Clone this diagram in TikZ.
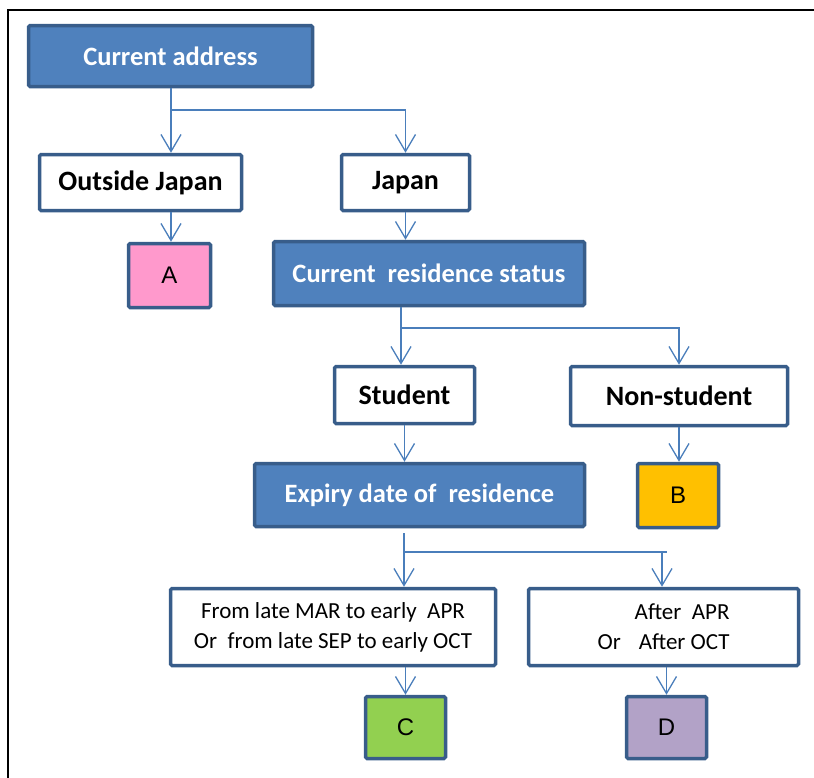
\documentclass[tikz,border=0pt]{standalone}
\usepackage{fontspec}
\setmainfont{Carlito}
\newfontfamily\arialf{Liberation Sans}
\usetikzlibrary{arrows.meta}
\definecolor{boxblue}{HTML}{4F81BD}
\definecolor{boxedge}{HTML}{385D8A}
\definecolor{linkc}{HTML}{4A7EBB}
\definecolor{pinkA}{HTML}{FF99CC}
\definecolor{orangeB}{HTML}{FFC000}
\definecolor{greenC}{HTML}{92D050}
\definecolor{purpleD}{HTML}{B2A2C7}
\begin{document}
\begin{tikzpicture}[x=1pt,y=-1pt,
 base/.style={draw=boxedge, line width=3.5pt, rounded corners=1.5pt, inner sep=0pt},
 bluebox/.style={base, fill=boxblue, text=white, font=\bfseries\fontsize{26.5}{30}\selectfont},
 whitebox/.style={base, fill=white, text=black, font=\bfseries\fontsize{28}{32}\selectfont},
 datebox/.style={base, fill=white, text=black, font=\fontsize{23}{30}\selectfont},
 letterbox/.style={base, text=black, font=\arialf\fontsize{24}{28}\selectfont},
 link/.style={draw=linkc, line width=1.3pt},
 arr/.style={link, -{Straight Barb[length=17pt,width=20pt,line width=1.3pt]}}
]
\useasboundingbox (0,0) rectangle (814,777);
\draw[line width=1.8pt] (8,790) -- (8,10) -- (820,10);

% nodes
\node[bluebox, minimum width=284pt, minimum height=61pt] (cur) at (170.5,56) {Current address};
\node[whitebox, minimum width=202pt, minimum height=56pt] (out) at (140.5,182.5) {Outside Japan};
\node[whitebox, minimum width=128pt, minimum height=56pt] (jap) at (405.5,182.5) {Japan};
\node[letterbox, fill=pinkA, minimum width=82pt, minimum height=64pt] (A) at (169.5,275.5) {A};
\node[bluebox, minimum width=311pt, minimum height=64pt] (res) at (429,273.5) {Current\ \ residence status};
\node[whitebox, minimum width=140pt, minimum height=57pt] (stu) at (404.5,395) {Student};
\node[whitebox, minimum width=217pt, minimum height=59pt] (non) at (679,396) {Non-student};
\node[bluebox, minimum width=330pt, minimum height=63pt] (exp) at (419.5,495) {Expiry date of\ \ residence};
\node[letterbox, fill=orangeB, minimum width=81pt, minimum height=64pt] (B) at (678,495.5) {B};
\node[datebox, align=center, minimum width=325pt, minimum height=77pt] (L) at (333,627)
  {From late MAR to early\ \ APR\\Or\ \ from late SEP to early OCT};
\node[datebox, align=right, minimum width=270pt, minimum height=77pt] (R) at (663.5,627)
  {After\ \ APR\\Or\hspace{18pt}After OCT};
\node[letterbox, fill=greenC, minimum width=80pt, minimum height=62pt] (C) at (405.5,727.5) {C};
\node[letterbox, fill=purpleD, minimum width=80pt, minimum height=62pt] (D) at (666.5,727.5) {D};

% junctions
\coordinate (j1) at (171,110);
\coordinate (j2) at (401,328);
\coordinate (j3) at (404,552);
\coordinate (j4) at (667,552);
\coordinate (j5) at (662,552);

% connectors
\draw[arr] (j1 |- cur.south) -- (j1 |- out.north);
\draw[arr] (j1) -| (jap.north);
\draw[arr] (j1 |- out.south) -- (j1 |- A.north);
\draw[arr] (jap.south) -- (jap.south |- res.north);
\draw[arr] (j2 |- res.south) -- (j2 |- stu.north);
\draw[arr] (j2) -| (non.north);
\draw[arr] (stu.south) -- (stu.south |- exp.north);
\draw[arr] (non.south) -- (non.south |- B.north);
\draw[arr, shorten <=5pt] (j3 |- exp.south) -- (j3 |- L.north);
\draw[link] (j3) -- (j4);
\draw[arr] (j5) -- (j5 |- R.north);
\draw[arr] (C.north |- L.south) -- (C.north);
\draw[arr] (D.north |- R.south) -- (D.north);
\end{tikzpicture}
\end{document}
